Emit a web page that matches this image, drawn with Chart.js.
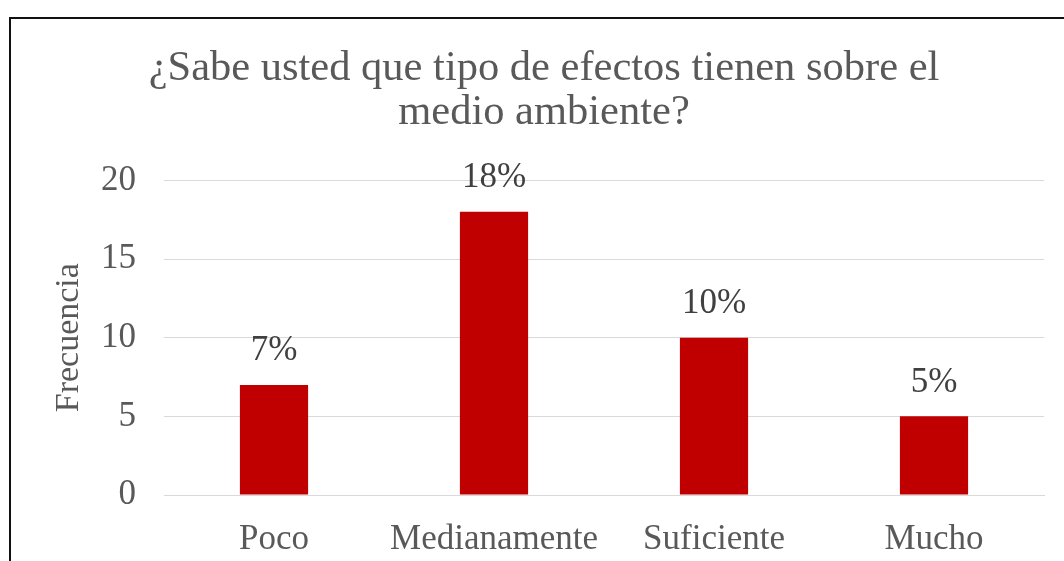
<!DOCTYPE html>
<html>
<head>
<meta charset="utf-8">
<script src="https://cdn.jsdelivr.net/npm/chart.js@4/dist/chart.umd.min.js"></script>
<style>
  html, body { margin: 0; padding: 0; background: #fff; overflow: hidden; }
  #wrap { position: relative; width: 1064px; height: 561px; }
  #frame {
    position: absolute; left: 9px; top: 17px; width: 1100px; height: 600px;
    border-left: 2px solid #111; border-top: 2px solid #111; pointer-events: none;
  }
</style>
</head>
<body>
<div id="wrap">
  <canvas id="chart" width="1064" height="561"></canvas>
  <div id="frame"></div>
</div>
<script>
// ------------------------------------------------------------
// Data
// ------------------------------------------------------------
const categories = ['Poco', 'Medianamente', 'Suficiente', 'Mucho'];
const frecuencia = [7, 18, 10, 5];
const pctLabels = ['7%', '18%', '10%', '5%'];
const yTicks = [0, 5, 10, 15, 20];

const SERIF = '"Liberation Serif", "DejaVu Serif", "Times New Roman", serif';
const GREY = '#595959';

// draws the percentage text above each bar
const barLabels = {
  id: 'barLabels',
  afterDatasetsDraw(chart) {
    const ctx = chart.ctx;
    const meta = chart.getDatasetMeta(0);
    ctx.save();
    ctx.font = '35px ' + SERIF;
    ctx.fillStyle = '#404040';
    ctx.textAlign = 'center';
    ctx.textBaseline = 'middle';
    meta.data.forEach((bar, i) => {
      ctx.fillText(pctLabels[i], bar.x, bar.y - 34);
    });
    ctx.restore();
  }
};

new Chart(document.getElementById('chart'), {
  type: 'bar',
  data: {
    labels: categories,
    datasets: [{
      label: 'Frecuencia',
      data: frecuencia,
      backgroundColor: '#C00000',
      borderWidth: 0,
      categoryPercentage: 1,
      barPercentage: 0.31,
    }]
  },
  options: {
    responsive: false,
    animation: false,
    layout: { padding: { top: 20, left: 44, right: 20, bottom: 3 } },
    plugins: {
      legend: { display: false },
      tooltip: { enabled: false },
      title: {
        display: true,
        text: ['¿Sabe usted que tipo de efectos tienen sobre el', 'medio ambiente?'],
        color: GREY,
        font: { family: SERIF, size: 42.5, weight: 'normal', lineHeight: 1.04 },
        padding: { top: 27, bottom: 45 },
      },
    },
    scales: {
      x: {
        afterFit(axis) { axis.height = 63; },
        grid: { display: false, drawTicks: false },
        border: { color: '#d9d9d9', width: 1 },
        ticks: { color: GREY, font: { family: SERIF, size: 35 }, padding: 24 },
      },
      y: {
        min: 0,
        max: 20,
        afterBuildTicks(axis) { axis.ticks = yTicks.map(v => ({ value: v })); },
        afterFit(axis) { axis.width = 120; },
        grid: { color: '#d9d9d9', drawTicks: false },
        border: { display: false },
        ticks: { color: GREY, font: { family: SERIF, size: 35 }, padding: 28 },
        title: {
          display: true,
          text: 'Frecuencia',
          color: GREY,
          font: { family: SERIF, size: 34 },
          padding: { top: 5, bottom: 0 },
        },
      }
    }
  },
  plugins: [barLabels]
});
</script>
</body>
</html>
